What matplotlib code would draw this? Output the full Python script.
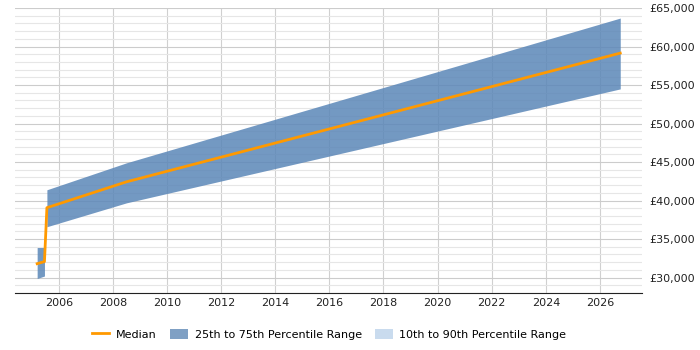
import numpy as np
import matplotlib.pyplot as plt
from matplotlib.patches import Patch
from matplotlib.lines import Line2D
from matplotlib.ticker import FuncFormatter, MultipleLocator

# early short segment
years_a = [2005.2, 2005.47]
p25_a = [29870, 30200]
p75_a = [33900, 33900]
median_a = [31800, 32070]

# main segment
years_b = [2005.56, 2008.5, 2026.75]
p25_b = [36600, 39700, 54500]
p75_b = [41400, 44900, 63700]
median_b = [39070, 42430, 59150]

band_color = '#5b87b8'
median_color = '#ff9900'

fig = plt.figure(figsize=(7, 3.5), dpi=100)
ax = fig.add_axes([0.021, 0.163, 0.896, 0.814])

ax.fill_between(years_a, p25_a, p75_a, color=band_color, alpha=0.85, linewidth=0, zorder=2)
ax.fill_between(years_b, p25_b, p75_b, color=band_color, alpha=0.85, linewidth=0, zorder=2)
ax.plot(years_a + years_b, median_a + median_b, color=median_color, linewidth=2, zorder=3)

ax.set_xlim(2004.37, 2027.55)
ax.set_ylim(28000, 65000)
ax.xaxis.set_major_locator(MultipleLocator(2))
ax.yaxis.set_major_locator(MultipleLocator(5000))
ax.yaxis.set_minor_locator(MultipleLocator(1000))
ax.yaxis.set_major_formatter(FuncFormatter(lambda v, p: f'£{int(v):,}'))
ax.yaxis.tick_right()
ax.tick_params(axis='y', which='both', length=0, labelsize=8, pad=5, colors='#222222')
ax.tick_params(axis='x', length=0, labelsize=8, colors='#222222')

ax.grid(True, axis='x', color='#d0d0d0', linewidth=0.8, zorder=0)
ax.grid(True, axis='y', which='major', color='#cccccc', linewidth=0.8, zorder=0)
ax.grid(True, axis='y', which='minor', color='#e6e6e6', linewidth=0.8, zorder=0)
ax.set_axisbelow(True)

for s in ['top', 'right', 'left']:
    ax.spines[s].set_visible(False)
ax.spines['bottom'].set_color('#222222')

handles = [
    Line2D([0], [0], color=median_color, linewidth=2),
    Patch(facecolor='#7fa0c4'),
    Patch(facecolor='#c9dbee'),
]
labels = ['Median', '25th to 75th Percentile Range', '10th to 90th Percentile Range']
fig.legend(handles, labels, loc='center', bbox_to_anchor=(0.47, 0.045), ncol=3,
           frameon=False, fontsize=8, handlelength=1.6, handleheight=1.1,
           handletextpad=0.6, columnspacing=1.2)

fig.savefig('out.png', dpi=100)
